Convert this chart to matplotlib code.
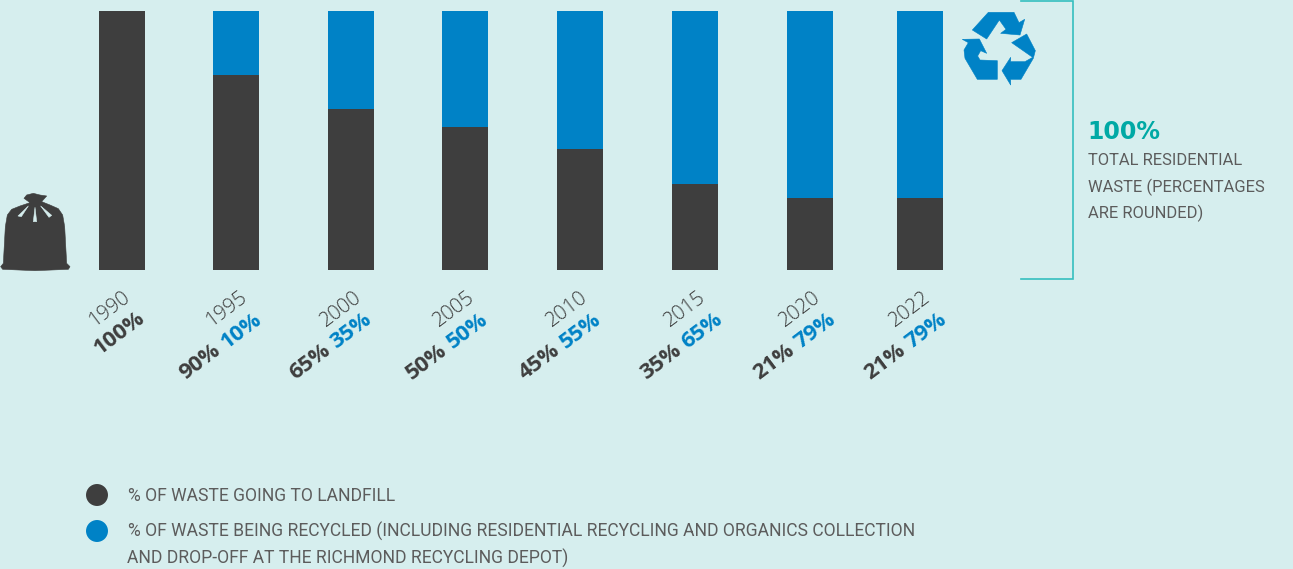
import matplotlib
matplotlib.use("Agg")
import matplotlib.pyplot as plt
import numpy as np
from matplotlib.patches import Polygon

plt.rcParams['font.family'] = ['Roboto', 'DejaVu Sans']

# Data
years = ['1990', '1995', '2000', '2005', '2010', '2015', '2020', '2022']
landfill_bar = [100, 75.3, 62, 55.4, 46.8, 33.2, 27.8, 27.8]
recycled_bar = [0, 24.7, 38, 44.6, 53.2, 66.8, 72.2, 72.2]
landfill_label = ['100%', '90%', '65%', '50%', '45%', '35%', '21%', '21%']
recycled_label = ['', '10%', '35%', '50%', '55%', '65%', '79%', '79%']

legend_text = ['% OF WASTE GOING TO LANDFILL',
               '% OF WASTE BEING RECYCLED (INCLUDING RESIDENTIAL RECYCLING AND ORGANICS COLLECTION',
               'AND DROP-OFF AT THE RICHMOND RECYCLING DEPOT)']
side_text = ['TOTAL RESIDENTIAL', 'WASTE (PERCENTAGES', 'ARE ROUNDED)']

bg = '#d6eeee'
dark = '#3e3e3e'
blue = '#0082c6'
teal = '#00a9a5'
grey = '#5c5c5c'

W, H = 1293, 569
fig = plt.figure(figsize=(W / 100, H / 100), dpi=100, facecolor=bg)

# overlay axes in pixels, for texts and icons
px = fig.add_axes([0, 0, 1, 1])
px.set_xlim(0, W)
px.set_ylim(H, 0)
px.axis('off')

# bars axes, y is percent
ax = fig.add_axes([0, 1 - 270 / H, 1, 259 / H])
ax.set_xlim(0, W)
ax.set_ylim(0, 100)
ax.axis('off')

bar_x = [122, 236, 351, 465, 580, 695, 810, 920]
ax.bar(bar_x, landfill_bar, width=46, color=dark)
ax.bar(bar_x, recycled_bar, width=46, bottom=landfill_bar, color=blue)

# rotated labels under the bars
rot = 37
year_dx = [-13, -10, -10, -11, -13, -10, -10, -10]
join_dx = [0, -17, -22, -19, -21, -15, -17, -16]
pct_font = ['Open Sans', 'DejaVu Sans']
for i, y in enumerate(years):
    px.text(bar_x[i] + year_dx[i], 309, y, rotation=rot, ha='center', va='center',
            rotation_mode='anchor', fontsize=14.5, fontweight='light', color='#3a3a3a', family=pct_font)
    if recycled_label[i] == '':
        px.text(bar_x[i] - 3, 333, landfill_label[i], rotation=rot, ha='center', va='center',
                rotation_mode='anchor', fontsize=16, fontweight='bold', color=dark, family=pct_font)
    else:
        jx = bar_x[i] + join_dx[i]
        px.text(jx - 1, 348, landfill_label[i], rotation=rot, ha='right', va='center',
                rotation_mode='anchor', fontsize=16, fontweight='bold', color=dark, family=pct_font)
        px.text(jx + 4, 345, recycled_label[i], rotation=rot, ha='left', va='center',
                rotation_mode='anchor', fontsize=16, fontweight='bold', color=blue, family=pct_font)

# bracket
px.plot([1021, 1073, 1073, 1021], [0.7, 0.7, 279, 279], color='#35bfbf', lw=1.2,
        solid_joinstyle='miter', clip_on=False)
px.text(1087, 132, '100%', color=teal, fontsize=17, fontweight='bold',
        family=['DejaVu Sans'], va='center', ha='left')
for line, y in zip(side_text, [160, 187, 213]):
    px.text(1088, y, line, color=grey, fontsize=11.9, va='center', ha='left')

# legend
px.scatter([97, 97], [495, 531], s=250, color=[dark, blue], linewidths=0)
for line, x, y in zip(legend_text, [128, 128, 127], [496, 531, 558]):
    px.text(x, y, line, color=grey, fontsize=12.65, va='center', ha='left')


def icon(points, ox, oy, color):
    # points come from the 3x zoom crops
    pts = np.array(points, dtype=float) / 3 + [ox, oy]
    px.add_patch(Polygon(pts, closed=True, facecolor=color, edgecolor=color, lw=0.4, joinstyle='round'))


# recycle arrows
icon([(97, 90), (145, 37), (222, 37), (237, 68), (254, 58), (240, 105), (182, 100), (198, 88),
      (178, 60), (140, 117)], 940, 0, blue)
icon([(215, 128), (260, 102), (286, 152), (280, 175), (243, 238), (212, 238), (212, 255),
      (186, 212), (212, 172), (212, 185), (255, 185), (278, 172)], 940, 0, blue)
icon([(67, 118), (118, 117), (140, 160), (122, 152), (113, 168), (120, 180), (172, 182),
      (172, 238), (112, 238), (75, 175), (72, 150), (85, 128)], 940, 0, blue)

# garbage bag
icon([(2, 290), (10, 280), (16, 170), (22, 135), (35, 118), (60, 108), (90, 98), (72, 85), (80, 75),
      (100, 70), (120, 75), (140, 78), (125, 95), (150, 105), (175, 116), (188, 135), (194, 170),
      (200, 280), (210, 290), (205, 298), (105, 302), (8, 298)], 0, 170, dark)
icon([(54, 138), (85, 108), (64, 140)], 0, 170, bg)
icon([(105, 112), (100, 155), (110, 155)], 0, 170, bg)
icon([(122, 108), (155, 136), (147, 142)], 0, 170, bg)

fig.savefig('out.png', dpi=100, facecolor=bg)
